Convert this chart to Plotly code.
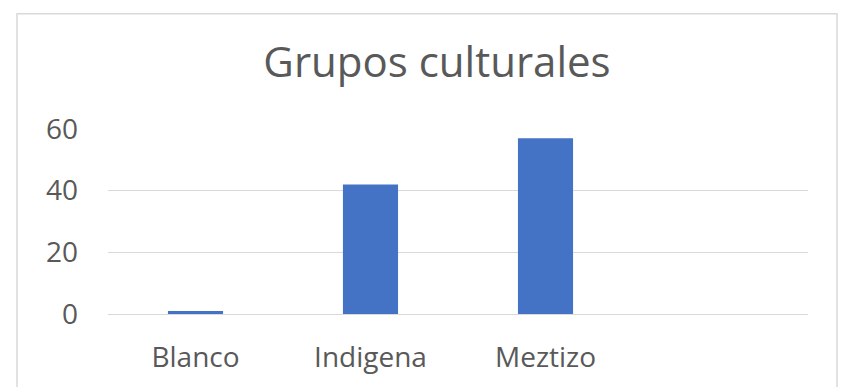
import plotly.graph_objects as go

# Population counts per cultural group
grupos = ["Blanco", "Indigena", "Meztizo"]
personas = [1, 42, 57]
y_ticks = [0, 20, 40, 60]

W, H = 850, 387
L, R, T, B = 108, 42, 129, 70  # plot area margins in px

fig = go.Figure(
    go.Bar(
        x=grupos,
        y=personas,
        marker=dict(color="#4472C4", line=dict(width=0)),
        width=0.315,
    )
)

pw = W - L - R
ph = H - T - B


def px_to_paper_x(px):
    return (px - L) / pw


def px_to_paper_y(py):
    return (H - B - py) / ph


fig.update_layout(
    width=W,
    height=H,
    margin=dict(l=L, r=R, t=T, b=B),
    paper_bgcolor="white",
    plot_bgcolor="white",
    showlegend=False,
    font=dict(family="Open Sans, Noto Sans, sans-serif", color="#595959"),
    title=dict(
        text="Grupos culturales",
        x=437 / W,
        xanchor="center",
        y=1 - 62 / H,
        yanchor="middle",
        font=dict(size=42, color="#595959", family="Open Sans, Noto Sans, sans-serif"),
    ),
    xaxis=dict(
        type="category",
        categoryorder="array",
        categoryarray=grupos,
        range=[-0.5, 3.5],
        showgrid=False,
        showline=False,
        zeroline=False,
        ticks="",
        tickfont=dict(size=28, color="#595959"),
        ticklabelstandoff=24,
    ),
    yaxis=dict(
        range=[0, 60],
        tickvals=y_ticks,
        showgrid=True,
        gridcolor="#d9d9d9",
        gridwidth=1,
        zeroline=True,
        zerolinecolor="#d9d9d9",
        zerolinewidth=1,
        showline=False,
        ticks="",
        tickfont=dict(size=28, color="#595959"),
        ticklabelstandoff=29,
    ),
    shapes=[
        dict(
            type="rect",
            xref="paper",
            yref="paper",
            x0=px_to_paper_x(17),
            x1=px_to_paper_x(837),
            y0=px_to_paper_y(400),
            y1=px_to_paper_y(12),
            line=dict(color="#d9d9d9", width=1.5),
            fillcolor="rgba(0,0,0,0)",
            layer="below",
        )
    ],
)

fig.write_html("out.html")
